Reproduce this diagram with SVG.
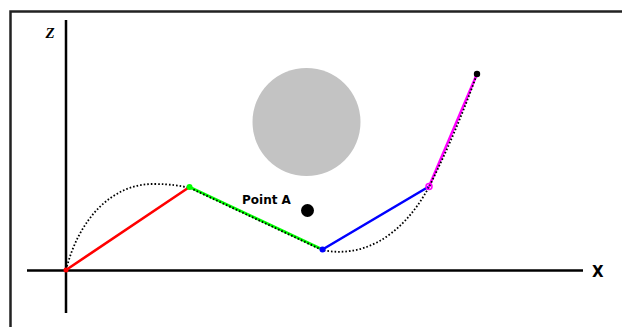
<svg xmlns="http://www.w3.org/2000/svg" width="622" height="327" viewBox="0 0 622 327">
<style>
.frame{stroke:#222;stroke-width:2.5;fill:none}
.axis{stroke:#000;stroke-width:2.5;fill:none}
.seg{stroke-width:2.6;fill:none;stroke-linecap:round}
.curve{stroke:#000;stroke-width:1.8;fill:none;stroke-dasharray:1.6 2}
.lbl{font-family:"DejaVu Sans",sans-serif;font-weight:bold;fill:#000}
</style>
<rect x="0" y="0" width="622" height="327" fill="#fff"/>
<g id="frame">
<path class="frame" d="M10.5,327 V11.5 H622"/>
</g>
<g id="axes">
<line class="axis" x1="66" y1="20" x2="66" y2="313"/>
<line class="axis" x1="27" y1="270.5" x2="583" y2="270.5"/>
<text x="45.5" y="37.5" style="font-family:'Liberation Serif',serif;font-weight:bold;font-style:italic;font-size:15px">Z</text>
<text class="lbl" x="592" y="277" style="font-size:15px">X</text>
</g>
<g id="obstacle">
<circle cx="306.5" cy="122" r="54" fill="#c3c3c3"/>
</g>
<g id="pointA">
<circle cx="307.5" cy="210.5" r="6.5" fill="#000"/>
<text class="lbl" x="242" y="204" style="font-size:12px">Point A</text>
</g>
<g id="connectors">
<line class="seg" x1="66" y1="270" x2="189.5" y2="187" stroke="#ff0000"/>
<line class="seg" x1="189.5" y1="187" x2="322.5" y2="249.5" stroke="#00ff00"/>
<line class="seg" x1="322.5" y1="249.5" x2="429" y2="186.5" stroke="#0000ff"/>
<line class="seg" x1="429" y1="186.5" x2="477" y2="74" stroke="#ff00ff"/>
<path class="curve" d="M66,270 C79,218 113,183 155,184 C170,184 180,186 189,187.5 L322,250 C360,258 400,240 429,187 Q456,133 477,74"/>
</g>
<g id="joints">
<circle cx="66" cy="270" r="2.5" fill="#ff0000"/>
<circle cx="189.5" cy="187" r="3" fill="#00ff00"/>
<circle cx="322.5" cy="249.5" r="3" fill="#0000ff"/>
<circle cx="429" cy="186.5" r="3" fill="none" stroke="#ff00ff" stroke-width="1.5"/>
<circle cx="477" cy="74" r="3.2" fill="#000"/>
</g>
</svg>
